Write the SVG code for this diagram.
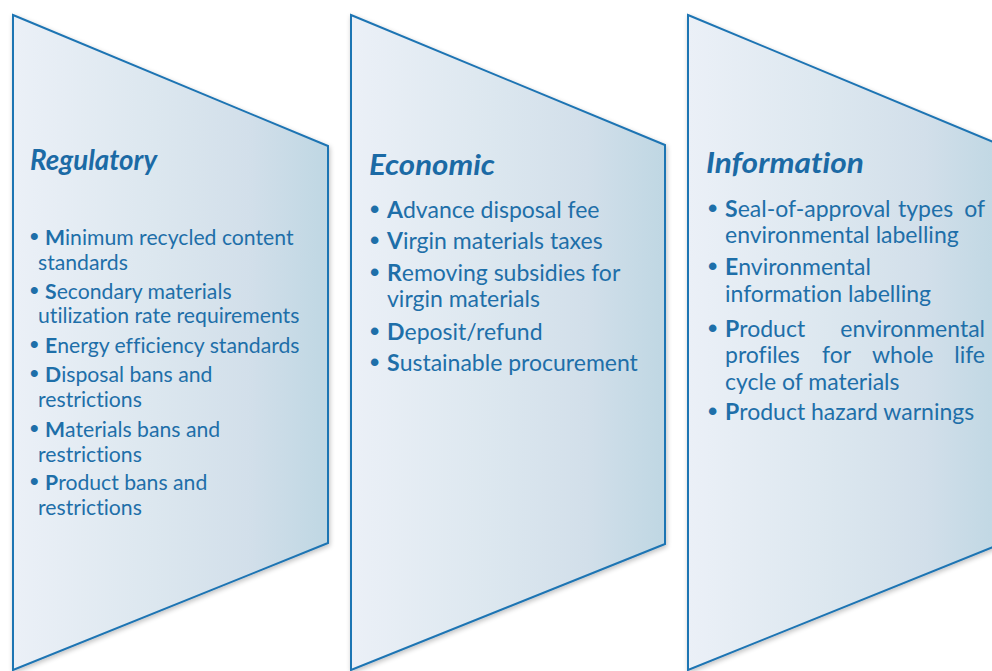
<svg xmlns="http://www.w3.org/2000/svg" width="992" height="671" viewBox="0 0 992 671">
  <defs>
    <linearGradient id="panelFill" x1="0" y1="0" x2="1" y2="0">
      <stop offset="0" stop-color="#ebf0f7"/>
      <stop offset="0.45" stop-color="#dce7ef"/>
      <stop offset="0.75" stop-color="#d2dfea"/>
      <stop offset="1" stop-color="#bfd7e3"/>
    </linearGradient>
    <filter id="softShadow" x="-5%" y="-5%" width="110%" height="110%">
      <feGaussianBlur in="SourceAlpha" stdDeviation="2.5"/>
      <feOffset dx="1" dy="2" result="b"/>
      <feComponentTransfer><feFuncA type="linear" slope="0.25"/></feComponentTransfer>
      <feMerge><feMergeNode/><feMergeNode in="SourceGraphic"/></feMerge>
    </filter>
    <style>
      .panel { fill: url(#panelFill); stroke: #1f74b3; stroke-width: 2; stroke-linejoin: miter; filter: url(#softShadow); }
      .title { font-family: Lato, "Liberation Sans", sans-serif; font-size: 28px; font-weight: bold; font-style: italic; fill: #1b6aa5; font-variant-ligatures: none; }
      .item { font-family: Lato, "Liberation Sans", sans-serif; font-size: 23px; fill: #1e6fa9; font-variant-ligatures: none; }
      .reg { font-size: 21.2px; }
      .item tspan.k { font-weight: bold; }
      .item tspan.b { font-family: "Liberation Sans", sans-serif; font-weight: bold; font-size: 1.15em; }
    </style>
  </defs>

  <rect width="992" height="671" fill="#ffffff"/>

  <!-- Regulatory instruments -->
  <g id="regulatory">
    <polygon class="panel" points="13,15 328,146 328,543 13,670"/>
    <text class="title" x="30" y="170" textLength="127" lengthAdjust="spacingAndGlyphs">Regulatory</text>
    <text class="item reg" y="245"><tspan class="b" x="30">•</tspan><tspan class="k" x="45">M</tspan>inimum recycled content</text>
    <text class="item reg" x="38" y="270">standards</text>
    <text class="item reg" y="299"><tspan class="b" x="30">•</tspan><tspan class="k" x="45">S</tspan>econdary materials</text>
    <text class="item reg" x="38" y="323">utilization rate requirements</text>
    <text class="item reg" y="353"><tspan class="b" x="30">•</tspan><tspan class="k" x="45">E</tspan>nergy efficiency standards</text>
    <text class="item reg" y="382"><tspan class="b" x="30">•</tspan><tspan class="k" x="45">D</tspan>isposal bans and</text>
    <text class="item reg" x="38" y="407">restrictions</text>
    <text class="item reg" y="437"><tspan class="b" x="30">•</tspan><tspan class="k" x="45">M</tspan>aterials bans and</text>
    <text class="item reg" x="38" y="462">restrictions</text>
    <text class="item reg" y="490"><tspan class="b" x="30">•</tspan><tspan class="k" x="45">P</tspan>roduct bans and</text>
    <text class="item reg" x="38" y="515">restrictions</text>
  </g>

  <!-- Economic instruments -->
  <g id="economic">
    <polygon class="panel" points="351,15 665,145 665,544 351,670"/>
    <text class="title" x="369" y="175" textLength="126" lengthAdjust="spacingAndGlyphs">Economic</text>
    <text class="item" y="218"><tspan class="b" x="370">•</tspan><tspan class="k" x="387">A</tspan>dvance disposal fee</text>
    <text class="item" y="249"><tspan class="b" x="370">•</tspan><tspan class="k" x="387">V</tspan>irgin materials taxes</text>
    <text class="item" y="281"><tspan class="b" x="370">•</tspan><tspan class="k" x="387">R</tspan>emoving subsidies for</text>
    <text class="item" x="387" y="307">virgin materials</text>
    <text class="item" y="340"><tspan class="b" x="370">•</tspan><tspan class="k" x="387">D</tspan>eposit/refund</text>
    <text class="item" y="371"><tspan class="b" x="370">•</tspan><tspan class="k" x="387">S</tspan>ustainable procurement</text>
  </g>

  <!-- Information instruments -->
  <g id="information">
    <polygon class="panel" points="688,15 1003,146 1003,543 688,670"/>
    <text class="title" x="706" y="173" textLength="158" lengthAdjust="spacingAndGlyphs">Information</text>
    <text class="item" y="217"><tspan class="b" x="708">•</tspan><tspan class="k" x="725">S</tspan>eal-of-approval</text>
    <text class="item" x="898" y="217">types</text>
    <text class="item" x="985" y="217" text-anchor="end">of</text>
    <text class="item" x="725" y="243">environmental labelling</text>
    <text class="item" y="275"><tspan class="b" x="708">•</tspan><tspan class="k" x="725">E</tspan>nvironmental</text>
    <text class="item" x="725" y="302">information labelling</text>
    <text class="item" y="337"><tspan class="b" x="708">•</tspan><tspan class="k" x="725">P</tspan>roduct</text>
    <text class="item" x="985" y="337" text-anchor="end">environmental</text>
    <text class="item" x="725" y="363">profiles</text>
    <text class="item" x="822" y="363">for</text>
    <text class="item" x="872" y="363">whole</text>
    <text class="item" x="985" y="363" text-anchor="end">life</text>
    <text class="item" x="725" y="390">cycle of materials</text>
    <text class="item" y="420"><tspan class="b" x="708">•</tspan><tspan class="k" x="725">P</tspan>roduct hazard warnings</text>
  </g>
</svg>
